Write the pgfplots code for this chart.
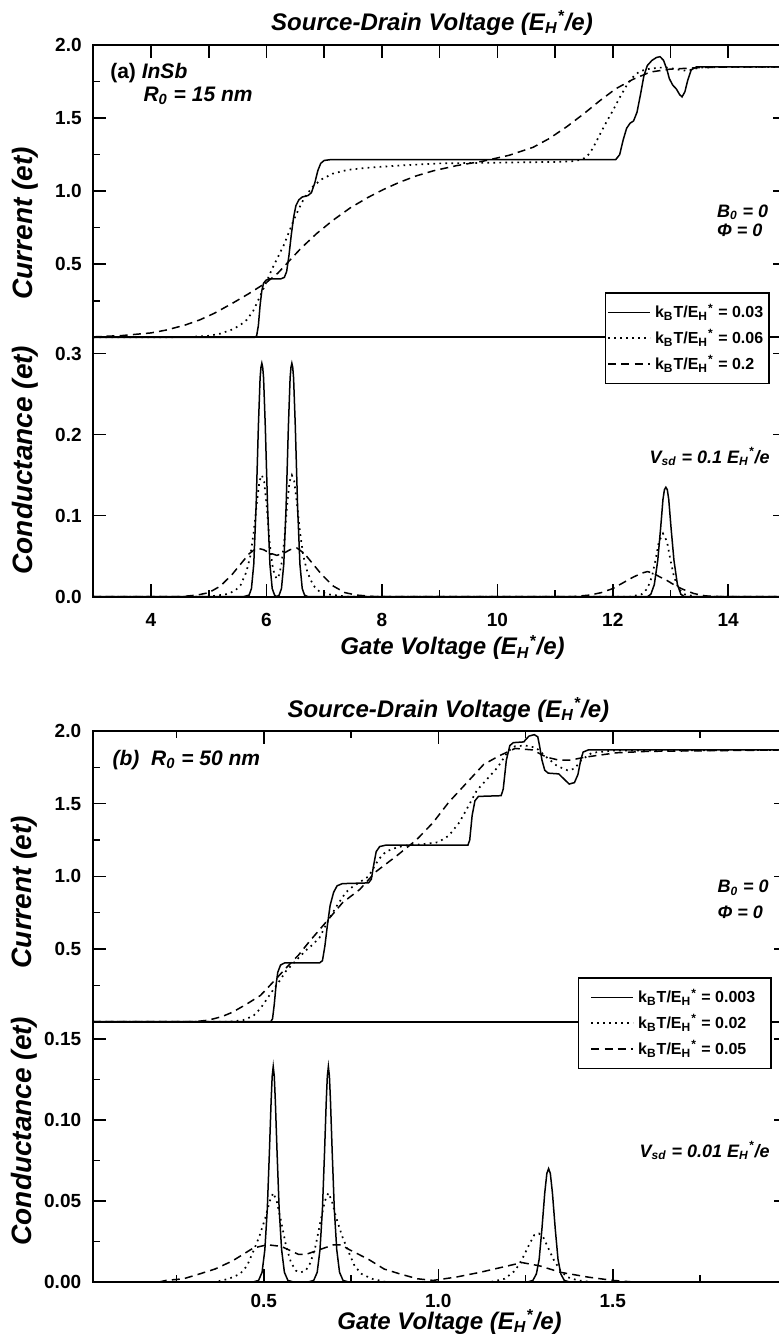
\documentclass[border=0pt]{standalone}
\usepackage{fontspec}
\setmainfont{Liberation Sans}
\usepackage{pgfplots}
\pgfplotsset{compat=1.18}
\newcommand{\EH}{E\textsubscript{H}\textsuperscript{*}}
\newcommand{\fs}[1]{\fontsize{#1}{#1}\selectfont}
\tikzset{txt/.style={inner sep=0pt, font=\bfseries\itshape\fs{#1}}}
\pgfplotsset{
 base/.style={
  scale only axis, clip=false,
  axis line style={line width=0.9pt},
  every tick/.style={black, line width=0.8pt},
  major tick length=6.5pt, minor tick length=3.5pt,
  /pgf/number format/assume math mode=true,
  tick label style={font=\bfseries\fs{9.5}},
  yticklabel style={xshift=-2.3pt},
  xticklabel style={yshift=-4.6pt},
  ylabel style={font=\bfseries\itshape\fs{14}, anchor=base, inner sep=0pt},
  xlabel style={font=\bfseries\itshape\fs{12}, anchor=base, inner sep=0pt},
  legend cell align=left,
  legend image code/.code={\draw[#1] (0pt,0pt) -- (21pt,0pt);},
 },
 leg/.style={legend style={at={(axis description cs:#1)}, anchor=north east, draw=black, line width=0.8pt, fill=white,
     font=\bfseries\fs{8}, inner xsep=1pt, inner ysep=3.5pt, row sep=0.5pt}},
 c1/.style={black, line width=0.75pt},
 c2/.style={black, line width=0.85pt, dash pattern=on 0.85pt off 2.15pt},
 c3/.style={black, line width=0.75pt, dash pattern=on 4pt off 2.6pt},
}
\begin{document}
\begin{tikzpicture}
% ---------------- Panel (a): current ----------------
\begin{axis}[base, at={(46.65pt,-22.5pt)}, anchor=north west, width=346.3pt, height=146.15pt,
  xmin=3, xmax=15, ymin=0, ymax=2,
  xtick={4,...,14}, xticklabels={}, xtick pos=right,
  ytick={0.5,1,1.5,2}, minor ytick={0.25,0.75,1.25,1.75},
  yticklabel style={/pgf/number format/fixed, /pgf/number format/fixed zerofill, /pgf/number format/precision=1},
  ylabel={Current (et)}, ylabel style={at={(axis description cs:-0.0885,0.39)}}]
\addplot[c1] coordinates {(3,0) (5.80,0) (5.83,0.01) (5.86,0.08) (5.89,0.22) (5.92,0.32) (5.95,0.37) (5.99,0.39) (6.05,0.40) (6.25,0.40) (6.31,0.41) (6.35,0.45) (6.39,0.56) (6.43,0.70) (6.47,0.82) (6.51,0.90) (6.56,0.94) (6.62,0.96) (6.72,0.97) (6.78,0.99) (6.84,1.06) (6.89,1.14) (6.94,1.19) (7.0,1.21) (7.1,1.215) (12.05,1.215) (12.12,1.25) (12.18,1.35) (12.24,1.43) (12.3,1.465) (12.36,1.48) (12.42,1.54) (12.48,1.66) (12.54,1.79) (12.6,1.86) (12.68,1.895) (12.76,1.915) (12.82,1.92) (12.88,1.895) (12.94,1.83) (12.98,1.77) (13.04,1.725) (13.1,1.70) (13.16,1.66) (13.2,1.645) (13.25,1.68) (13.3,1.76) (13.36,1.83) (13.45,1.85) (13.6,1.85) (15,1.85)};
\addplot[c2] coordinates {(3,0) (4.4,0.001) (4.7,0.003) (5.0,0.01) (5.2,0.025) (5.42,0.055) (5.55,0.085) (5.66,0.12) (5.77,0.18) (5.9,0.29) (6.0,0.38) (6.1,0.47) (6.2,0.55) (6.3,0.63) (6.4,0.73) (6.47,0.80) (6.55,0.87) (6.65,0.95) (6.8,1.03) (6.95,1.08) (7.15,1.12) (7.4,1.145) (7.74,1.16) (8.3,1.175) (9,1.19) (10,1.195) (11,1.20) (11.3,1.205) (11.45,1.215) (11.55,1.235) (11.65,1.29) (11.78,1.39) (11.9,1.48) (12.0,1.55) (12.12,1.64) (12.25,1.73) (12.37,1.79) (12.47,1.82) (12.6,1.835) (12.8,1.845) (12.95,1.845) (13.1,1.835) (13.22,1.825) (13.35,1.83) (13.5,1.845) (14,1.85) (15,1.85)};
\addplot[c3] coordinates {(3,0.003) (3.5,0.012) (4.0,0.03) (4.27,0.05) (4.6,0.085) (4.85,0.12) (5.1,0.165) (5.42,0.235) (5.7,0.30) (6.0,0.375) (6.2,0.44) (6.4,0.525) (6.6,0.61) (6.87,0.71) (7.15,0.80) (7.45,0.885) (7.75,0.955) (8.02,1.01) (8.3,1.06) (8.6,1.105) (8.9,1.14) (9.3,1.175) (9.75,1.205) (10.2,1.245) (10.62,1.30) (10.9,1.36) (11.2,1.44) (11.5,1.53) (11.78,1.62) (12.05,1.70) (12.35,1.765) (12.65,1.815) (13.0,1.835) (13.5,1.845) (14,1.85) (15,1.85)};
\node[txt=10.5, anchor=base west] at (axis description cs:0.024,0.887) {\upshape(a) \itshape InSb};
\node[txt=10.5, anchor=base west] at (axis description cs:0.072,0.808) {R\textsubscript{0} = 15 nm};
\node[txt=9, anchor=base west] at (axis description cs:0.90,0.411) {B\textsubscript{0} = 0};
\node[txt=9, anchor=base west] at (axis description cs:0.90,0.345) {Φ = 0};
\node[txt=12, anchor=base] at (axis description cs:0.489,1.051) {Source-Drain Voltage (\EH/e)};
\end{axis}
% ---------------- Panel (a): conductance ----------------
\begin{axis}[base, at={(46.65pt,-168.65pt)}, anchor=north west, width=346.3pt, height=129.7pt,
  xmin=3, xmax=15, ymin=0, ymax=0.32,
  xtick={4,6,...,14}, minor xtick={5,7,...,13}, xtick pos=left,
  ytick={0,0.1,0.2,0.3},
  yticklabel style={/pgf/number format/fixed, /pgf/number format/fixed zerofill, /pgf/number format/precision=1},
  ylabel={Conductance (et)}, ylabel style={at={(axis description cs:-0.0885,0.527)}},
  xlabel={Gate Voltage (\EH/e)}, xlabel style={at={(axis description cs:0.5186,-0.2247)}},
  leg={0.977,1.1746}]
\addplot[c1] coordinates {(3,0) (5.60,0) (5.70,0.002) (5.74,0.01) (5.78,0.04) (5.82,0.11) (5.86,0.21) (5.89,0.27) (5.905,0.283) (5.92,0.288) (5.935,0.283) (5.95,0.27) (5.98,0.21) (6.02,0.11) (6.06,0.04) (6.10,0.01) (6.14,0.002) (6.18,0) (6.22,0.002) (6.26,0.01) (6.30,0.04) (6.34,0.11) (6.38,0.21) (6.41,0.27) (6.425,0.283) (6.44,0.288) (6.455,0.283) (6.47,0.27) (6.50,0.21) (6.54,0.11) (6.58,0.04) (6.62,0.01) (6.66,0.002) (6.72,0) (12.60,0) (12.66,0.003) (12.72,0.015) (12.78,0.045) (12.83,0.085) (12.87,0.12) (12.895,0.132) (12.92,0.135) (12.945,0.132) (12.97,0.12) (13.01,0.085) (13.06,0.045) (13.12,0.015) (13.18,0.003) (13.24,0) (15,0)};
\addlegendentry{k\textsubscript{B}T/\EH{} = 0.03}
\addplot[c2] coordinates {(3,0) (5.0,0) (5.3,0.003) (5.45,0.007) (5.55,0.014) (5.65,0.03) (5.72,0.05) (5.78,0.08) (5.84,0.12) (5.88,0.143) (5.92,0.15) (5.96,0.142) (6.0,0.115) (6.05,0.07) (6.10,0.04) (6.14,0.027) (6.18,0.022) (6.22,0.027) (6.26,0.04) (6.31,0.07) (6.36,0.115) (6.40,0.142) (6.44,0.15) (6.48,0.143) (6.52,0.12) (6.58,0.08) (6.64,0.05) (6.71,0.03) (6.81,0.014) (6.91,0.007) (7.06,0.003) (7.4,0) (12.3,0) (12.5,0.003) (12.6,0.01) (12.68,0.025) (12.74,0.045) (12.8,0.068) (12.87,0.078) (12.94,0.068) (13.0,0.045) (13.06,0.025) (13.14,0.01) (13.24,0.003) (13.45,0) (15,0)};
\addlegendentry{k\textsubscript{B}T/\EH{} = 0.06}
\addplot[c3] coordinates {(3,0) (4.5,0) (4.8,0.002) (5.0,0.005) (5.2,0.013) (5.4,0.027) (5.55,0.04) (5.7,0.053) (5.83,0.06) (5.95,0.058) (6.05,0.054) (6.18,0.051) (6.31,0.054) (6.41,0.058) (6.53,0.06) (6.66,0.053) (6.81,0.04) (6.96,0.027) (7.16,0.013) (7.36,0.005) (7.56,0.002) (7.9,0) (11.3,0) (11.6,0.002) (11.8,0.005) (12.0,0.01) (12.2,0.018) (12.35,0.024) (12.5,0.029) (12.6,0.031) (12.7,0.029) (12.8,0.025) (12.94,0.02) (13.1,0.013) (13.22,0.009) (13.4,0.004) (13.6,0.001) (13.9,0) (15,0)};
\addlegendentry{k\textsubscript{B}T/\EH{} = 0.2}
\node[txt=9, anchor=base east] at (axis description cs:0.977,0.515) {V\textsubscript{sd} = 0.1 \EH/e};
\end{axis}
% ---------------- Panel (b): current ----------------
\begin{axis}[base, at={(46.4pt,-365.5pt)}, anchor=north west, width=347.25pt, height=145.35pt,
  xmin=0.01, xmax=2.0, ymin=0, ymax=2,
  xtick={0.5,1,1.5}, minor xtick={0.25,0.75,1.25,1.75}, xticklabels={}, xtick pos=right,
  ytick={0.5,1,1.5,2}, minor ytick={0.25,0.75,1.25,1.75},
  yticklabel style={/pgf/number format/fixed, /pgf/number format/fixed zerofill, /pgf/number format/precision=1},
  ylabel={Current (et)}, ylabel style={at={(axis description cs:-0.0883,0.446)}}]
\addplot[c1] coordinates {(0.01,0) (0.52,0) (0.525,0.02) (0.53,0.12) (0.535,0.25) (0.54,0.34) (0.548,0.39) (0.56,0.405) (0.66,0.405) (0.668,0.42) (0.675,0.52) (0.682,0.66) (0.69,0.80) (0.70,0.89) (0.71,0.935) (0.725,0.95) (0.80,0.955) (0.808,0.98) (0.815,1.08) (0.822,1.17) (0.832,1.205) (0.85,1.215) (1.085,1.215) (1.09,1.25) (1.097,1.42) (1.105,1.52) (1.115,1.55) (1.18,1.555) (1.186,1.60) (1.195,1.80) (1.205,1.90) (1.215,1.92) (1.245,1.925) (1.25,1.94) (1.26,1.965) (1.275,1.975) (1.285,1.96) (1.29,1.90) (1.297,1.80) (1.305,1.73) (1.315,1.71) (1.345,1.705) (1.36,1.67) (1.375,1.635) (1.39,1.645) (1.40,1.70) (1.408,1.80) (1.415,1.855) (1.43,1.87) (2.0,1.87)};
\addplot[c2] coordinates {(0.01,0) (0.40,0) (0.44,0.01) (0.47,0.04) (0.49,0.09) (0.51,0.16) (0.527,0.22) (0.545,0.28) (0.564,0.35) (0.58,0.39) (0.60,0.44) (0.62,0.49) (0.64,0.53) (0.66,0.58) (0.685,0.70) (0.71,0.80) (0.735,0.89) (0.755,0.93) (0.775,0.96) (0.80,1.0) (0.83,1.12) (0.85,1.17) (0.87,1.19) (0.90,1.21) (0.95,1.22) (1.0,1.235) (1.03,1.28) (1.06,1.37) (1.09,1.50) (1.11,1.59) (1.14,1.67) (1.17,1.75) (1.20,1.86) (1.22,1.895) (1.25,1.90) (1.28,1.885) (1.31,1.82) (1.34,1.76) (1.37,1.73) (1.39,1.74) (1.41,1.80) (1.44,1.85) (1.5,1.865) (2.0,1.87)};
\addplot[c3] coordinates {(0.01,0) (0.30,0) (0.34,0.01) (0.38,0.035) (0.41,0.065) (0.45,0.12) (0.49,0.18) (0.51,0.23) (0.564,0.37) (0.60,0.46) (0.63,0.55) (0.68,0.69) (0.726,0.82) (0.775,0.91) (0.82,1.03) (0.88,1.14) (0.937,1.25) (0.985,1.37) (1.03,1.51) (1.08,1.64) (1.13,1.77) (1.175,1.83) (1.22,1.88) (1.27,1.87) (1.31,1.82) (1.345,1.80) (1.38,1.80) (1.42,1.82) (1.51,1.85) (1.6,1.86) (2.0,1.87)};
\node[txt=10.5, anchor=base west] at (axis description cs:0.028,0.883) {(b)\ \ R\textsubscript{0} = 50 nm};
\node[txt=9, anchor=base west] at (axis description cs:0.899,0.443) {B\textsubscript{0} = 0};
\node[txt=9, anchor=base west] at (axis description cs:0.899,0.356) {Φ = 0};
\node[txt=12, anchor=base] at (axis description cs:0.512,1.048) {Source-Drain Voltage (\EH/e)};
\end{axis}
% ---------------- Panel (b): conductance ----------------
\begin{axis}[base, at={(46.4pt,-510.85pt)}, anchor=north west, width=347.25pt, height=130.15pt,
  xmin=0.01, xmax=2.0, ymin=0, ymax=0.1607,
  xtick={0.5,1,1.5}, minor xtick={0.25,0.75,1.25,1.75}, xtick pos=left,
  xticklabel style={yshift=2pt, /pgf/number format/fixed, /pgf/number format/fixed zerofill, /pgf/number format/precision=1},
  ytick={0,0.05,0.1,0.15}, minor ytick={0.025,0.075,0.125},
  yticklabel style={/pgf/number format/fixed, /pgf/number format/fixed zerofill, /pgf/number format/precision=2},
  ylabel={Conductance (et)}, ylabel style={at={(axis description cs:-0.0883,0.58)}},
  xlabel={Gate Voltage (\EH/e)}, xlabel style={at={(axis description cs:0.5136,-0.182)}},
  leg={0.978,1.1717}, legend style={inner xsep=6pt}]
\addplot[c1] coordinates {(0.01,0) (0.469,0) (0.485,0.001) (0.495,0.006) (0.503,0.02) (0.51,0.045) (0.516,0.08) (0.521,0.112) (0.524,0.127) (0.527,0.133) (0.530,0.127) (0.533,0.112) (0.538,0.08) (0.544,0.045) (0.551,0.02) (0.559,0.006) (0.569,0.001) (0.585,0) (0.627,0) (0.643,0.001) (0.653,0.006) (0.661,0.02) (0.668,0.045) (0.674,0.08) (0.679,0.112) (0.682,0.127) (0.685,0.133) (0.688,0.127) (0.691,0.112) (0.696,0.08) (0.702,0.045) (0.709,0.02) (0.717,0.006) (0.727,0.001) (0.743,0) (1.256,0) (1.271,0.001) (1.281,0.005) (1.289,0.014) (1.297,0.033) (1.305,0.055) (1.311,0.067) (1.316,0.070) (1.321,0.067) (1.327,0.055) (1.335,0.033) (1.343,0.014) (1.351,0.005) (1.361,0.001) (1.376,0) (2.0,0)};
\addlegendentry{k\textsubscript{B}T/\EH{} = 0.003}
\addplot[c2] coordinates {(0.01,0) (0.36,0) (0.40,0.002) (0.432,0.005) (0.452,0.01) (0.472,0.02) (0.487,0.028) (0.505,0.04) (0.517,0.05) (0.527,0.055) (0.537,0.05) (0.549,0.038) (0.564,0.022) (0.578,0.012) (0.592,0.007) (0.606,0.006) (0.62,0.007) (0.634,0.012) (0.648,0.022) (0.663,0.038) (0.675,0.05) (0.685,0.055) (0.695,0.05) (0.707,0.04) (0.725,0.028) (0.74,0.02) (0.76,0.01) (0.78,0.005) (0.81,0.002) (0.85,0) (1.15,0) (1.19,0.002) (1.22,0.007) (1.24,0.014) (1.26,0.023) (1.275,0.029) (1.288,0.030) (1.30,0.028) (1.315,0.021) (1.33,0.014) (1.35,0.007) (1.37,0.003) (1.40,0.001) (1.44,0) (2.0,0)};
\addlegendentry{k\textsubscript{B}T/\EH{} = 0.02}
\addplot[c3] coordinates {(0.01,0) (0.2,0) (0.22,0.001) (0.27,0.002) (0.316,0.005) (0.36,0.008) (0.41,0.013) (0.44,0.017) (0.47,0.021) (0.51,0.023) (0.55,0.022) (0.6,0.017) (0.62,0.017) (0.66,0.02) (0.70,0.023) (0.72,0.023) (0.745,0.020) (0.80,0.014) (0.845,0.008) (0.89,0.005) (0.94,0.002) (0.985,0.001) (1.05,0.003) (1.12,0.006) (1.18,0.009) (1.24,0.012) (1.29,0.01) (1.35,0.006) (1.43,0.003) (1.5,0.001) (1.56,0) (2.0,0)};
\addlegendentry{k\textsubscript{B}T/\EH{} = 0.05}
\node[txt=9, anchor=base east] at (axis description cs:0.975,0.48) {V\textsubscript{sd} = 0.01 \EH/e};
\end{axis}
\pgfresetboundingbox
\path[use as bounding box] (0pt,0pt) rectangle (389.5pt,-671pt);
\end{tikzpicture}
\end{document}
